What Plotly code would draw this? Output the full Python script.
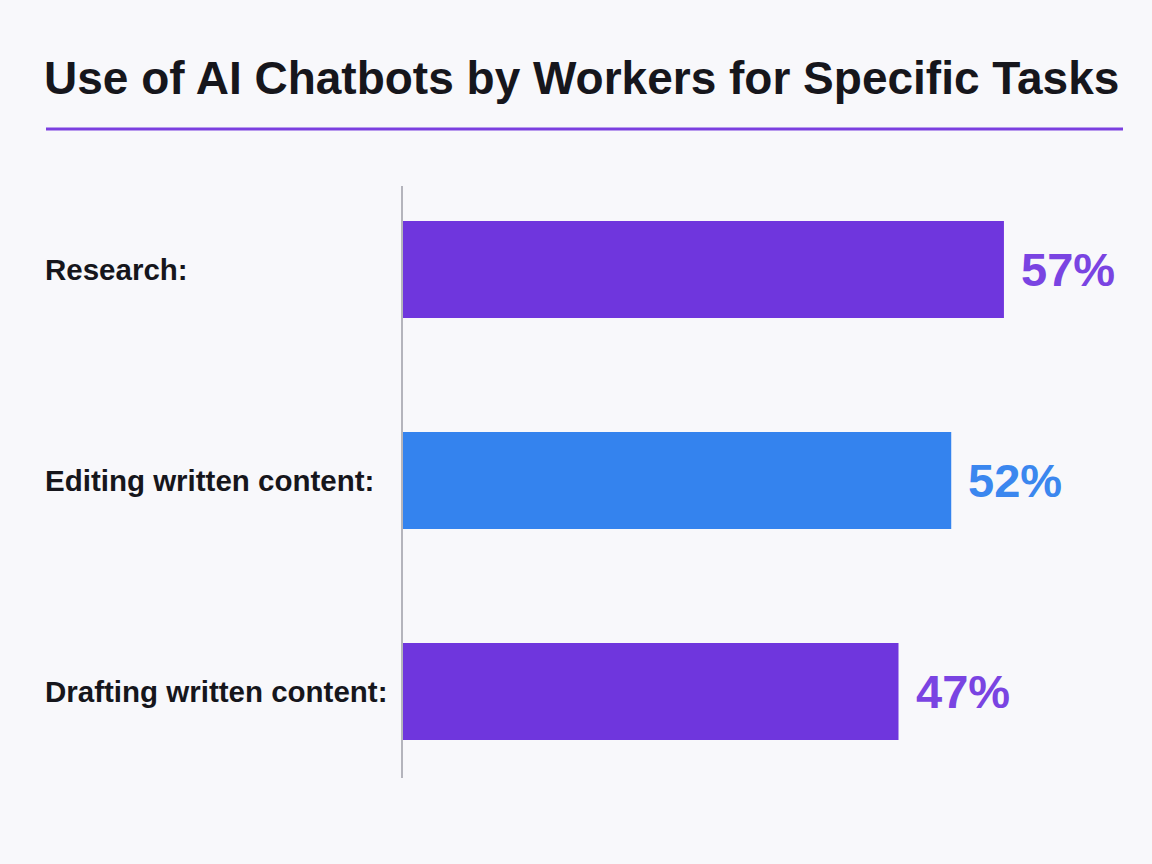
import plotly.graph_objects as go

categories = ["Research:", "Editing written content:", "Drafting written content:"]
values = [57, 52, 47]
bar_colors = ["#6f36dd", "#3483ee", "#6f36dd"]
text_colors = ["#7a44e2", "#3b87ef", "#7a44e2"]
title_text = "Use of AI Chatbots by Workers for Specific Tasks"

W, H = 1152, 864
L, R, T, B = 403, 11, 186, 86
PW = W - L - R
PH = H - T - B

def px_x(px):
    return (px - L) / PW

def px_y(py):
    return (H - B - py) / PH

FONT = "Liberation Sans, Arial, sans-serif"
INK = "#16161c"

fig = go.Figure()
fig.add_trace(go.Bar(
    x=values, y=categories, orientation="h",
    marker=dict(color=bar_colors, line=dict(width=0)),
    width=0.46, hoverinfo="skip",
))

annotations = []
for c, v, tc in zip(categories, values, text_colors):
    annotations.append(dict(
        x=v, y=c, xref="x", yref="y", text=f"<b>{v}%</b>", showarrow=False,
        xanchor="left", yanchor="middle", xshift=15,
        font=dict(family=FONT, size=47, color=tc),
    ))
    annotations.append(dict(
        x=px_x(43), y=c, xref="paper", yref="y", text=f"<b>{c}</b>", showarrow=False,
        xanchor="left", yanchor="middle",
        font=dict(family=FONT, size=29.5, color=INK),
    ))
annotations.append(dict(
    x=px_x(42), y=px_y(78), xref="paper", yref="paper", text=f"<b>{title_text}</b>",
    showarrow=False, xanchor="left", yanchor="middle",
    font=dict(family=FONT, size=46, color=INK),
))

fig.update_layout(
    width=W, height=H, autosize=False,
    margin=dict(l=L, r=R, t=T, b=B),
    paper_bgcolor="#f8f8fb", plot_bgcolor="#f8f8fb",
    showlegend=False,
    xaxis=dict(range=[0, 70], visible=False, fixedrange=True),
    yaxis=dict(
        categoryorder="array", categoryarray=categories,
        range=[2 + 86.5 / 211, -83.5 / 211],
        showticklabels=False, showgrid=False, zeroline=False,
        showline=True, linecolor="#b4b4bc", linewidth=2, ticks="",
    ),
    annotations=annotations,
    shapes=[dict(
        type="line", xref="paper", yref="paper",
        x0=px_x(46), x1=px_x(1123), y0=px_y(129), y1=px_y(129),
        line=dict(color="#7b3fe0", width=3),
    )],
)

fig.write_html("out.html")
